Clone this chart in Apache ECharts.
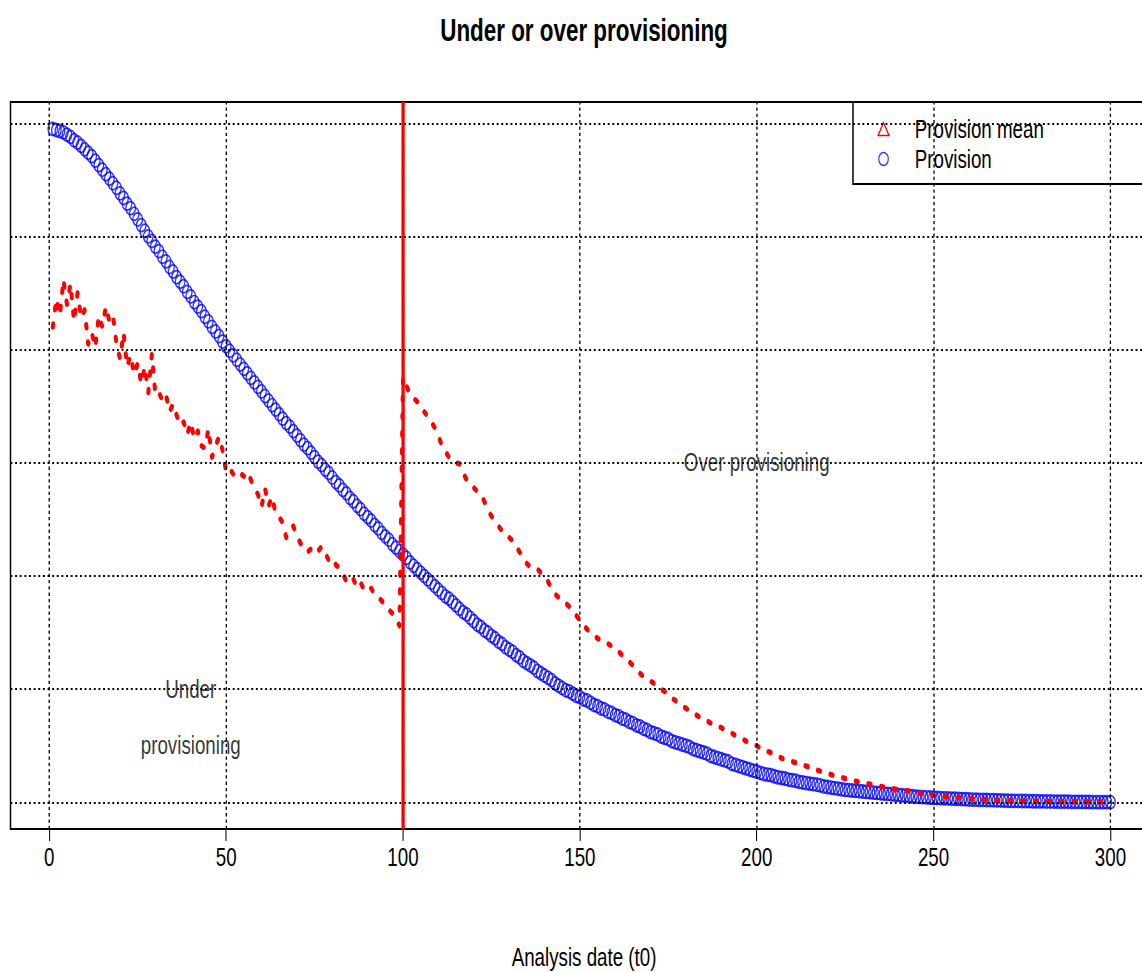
<!DOCTYPE html>
<html>
<head>
<meta charset="utf-8">
<script src="https://cdn.jsdelivr.net/npm/echarts@6/dist/echarts.min.js"></script>
<style>
html,body{margin:0;padding:0;background:#fff;overflow:hidden;width:1142px;height:972px}
#chart{width:1554px;height:972px;transform:scaleX(0.734878);transform-origin:0 0}
</style>
</head>
<body>
<div id="chart"></div>
<script>
// Provision (blue circles), analysis dates 1..300
const provision = [
  5.95,5.94,5.93,5.92,5.90, 5.88,5.85,5.83,5.80,5.77, 5.74,5.71,5.67,5.63,5.59, 5.55,5.51,5.47,5.43,5.38,
  5.34,5.29,5.25,5.20,5.15, 5.10,5.05,5.00,4.96,4.91, 4.87,4.82,4.78,4.73,4.69, 4.64,4.60,4.56,4.51,4.47,
  4.42,4.38,4.34,4.29,4.25, 4.20,4.16,4.12,4.07,4.03,
  3.99,3.95,3.91,3.87,3.83, 3.79,3.75,3.71,3.67,3.63, 3.59,3.55,3.51,3.47,3.43, 3.39,3.35,3.32,3.28,3.24,
  3.20,3.16,3.13,3.09,3.05, 3.01,2.98,2.94,2.91,2.87, 2.83,2.80,2.76,2.73,2.69, 2.66,2.62,2.59,2.55,2.52,
  2.49,2.45,2.42,2.38,2.35, 2.32,2.28,2.25,2.22,2.19,
  2.16,2.12,2.09,2.06,2.03, 2.00,1.97,1.94,1.91,1.88, 1.85,1.82,1.80,1.77,1.74, 1.71,1.68,1.66,1.63,1.60,
  1.57,1.55,1.52,1.50,1.47, 1.45,1.42,1.40,1.37,1.35, 1.33,1.30,1.28,1.25,1.23, 1.21,1.19,1.16,1.14,1.12,
  1.10,1.08,1.05,1.03,1.01, 0.99,0.98,0.96,0.94,0.93,
  0.91,0.90,0.88,0.86,0.85, 0.83,0.82,0.80,0.79,0.77, 0.76,0.74,0.73,0.71,0.70, 0.68,0.67,0.65,0.64,0.62,
  0.61,0.60,0.58,0.57,0.56, 0.54,0.53,0.52,0.51,0.50, 0.49,0.47,0.46,0.45,0.44, 0.43,0.41,0.40,0.39,0.38,
  0.37,0.36,0.34,0.33,0.32, 0.31,0.30,0.29,0.28,0.27,
  0.26,0.25,0.245,0.24,0.23, 0.22,0.215,0.21,0.20,0.195, 0.19,0.18,0.175,0.17,0.165, 0.16,0.155,0.15,0.14,0.135,
  0.13,0.125,0.12,0.115,0.11, 0.107,0.104,0.101,0.098,0.095, 0.092,0.089,0.086,0.083,0.08, 0.077,0.074,0.071,0.068,0.065,
  0.062,0.059,0.056,0.053,0.05, 0.048,0.046,0.044,0.042,0.04,
  0.038,0.037,0.035,0.034,0.032, 0.031,0.03,0.028,0.027,0.025, 0.024,0.023,0.022,0.021,0.02, 0.019,0.018,0.017,0.016,0.015,
  0.014,0.013,0.013,0.012,0.011, 0.011,0.01,0.009,0.009,0.008, 0.008,0.007,0.007,0.006,0.006, 0.005,0.005,0.005,0.004,0.004,
  0.004,0.003,0.003,0.003,0.002, 0.002,0.002,0.001,0.001,0.001
];

// Provision mean (red dotted line), analysis dates 1..300
const provisionMean = [
  4.20,4.45,4.30,4.62,4.40, 4.58,4.25,4.50,4.28,4.35, 4.05,4.15,4.02,4.30,4.20, 4.38,4.25,4.30,4.05,3.92,
  4.15,3.85,3.95,3.78,3.88, 3.70,3.85,3.62,3.96,3.60, 3.62,3.55,3.60,3.45,3.52, 3.42,3.33,3.36,3.25,3.36,
  3.21,3.28,3.15,3.13,3.30, 3.05,3.15,3.23,3.11,2.92,
  2.95,2.90,2.93,2.91,2.88, 2.92,2.85,2.77,2.72,2.61, 2.77,2.62,2.70,2.55,2.52, 2.47,2.34,2.40,2.44,2.35,
  2.29,2.25,2.21,2.24,2.26, 2.22,2.26,2.20,2.14,2.16, 2.10,2.07,2.02,1.95,1.93, 1.97,1.90,1.94,1.88,1.86,
  1.89,1.84,1.81,1.78,1.74, 1.70,1.67,1.63,1.56,3.76,
  3.68,3.60,3.57,3.54,3.50, 3.45,3.41,3.36,3.31,3.24, 3.15,3.10,3.05,3.01,3.00, 2.99,2.91,2.85,2.81,2.78,
  2.75,2.72,2.66,2.58,2.53, 2.48,2.44,2.40,2.37,2.34, 2.31,2.26,2.21,2.16,2.11, 2.08,2.07,2.06,2.03,1.99,
  1.95,1.89,1.84,1.81,1.78, 1.76,1.73,1.70,1.65,1.61,
  1.57,1.53,1.50,1.47,1.45, 1.43,1.41,1.40,1.38,1.36, 1.33,1.30,1.27,1.24,1.21, 1.17,1.14,1.11,1.09,1.07,
  1.05,1.02,1.00,0.98,0.95, 0.92,0.90,0.87,0.85,0.83, 0.81,0.79,0.77,0.75,0.73, 0.72,0.70,0.69,0.67,0.66,
  0.64,0.63,0.61,0.59,0.57, 0.56,0.54,0.52,0.51,0.50,
  0.48,0.47,0.45,0.44,0.42, 0.41,0.39,0.38,0.37,0.36, 0.35,0.34,0.33,0.32,0.31, 0.295,0.285,0.275,0.265,0.255,
  0.245,0.235,0.228,0.22,0.21, 0.20,0.193,0.186,0.179,0.172, 0.166,0.16,0.153,0.147,0.141, 0.135,0.129,0.123,0.117,0.113,
  0.109,0.105,0.10,0.093,0.086, 0.079,0.073,0.069,0.065,0.061,
  0.058,0.055,0.052,0.049,0.047, 0.044,0.041,0.038,0.035,0.033, 0.031,0.028,0.026,0.025,0.023, 0.022,0.02,0.018,0.017,0.015,
  0.014,0.013,0.013,0.012,0.012, 0.011,0.011,0.010,0.010,0.009, 0.009,0.009,0.008,0.008,0.008, 0.007,0.007,0.007,0.006,0.006,
  0.006,0.006,0.005,0.005,0.005, 0.005,0.005,0.004,0.004,0.004
];

const xTicks = [0, 50, 100, 150, 200, 250, 300];
const yGridLines = [0, 1, 2, 3, 4, 5, 6];
const thresholdDate = 100;
const annotationTexts = ['Under', 'provisioning', 'Over provisioning'];
const annotationX = [40, 40, 200];
const annotationY = [1.0, 0.5, 3.0];

const analysisDates = provision.map((_, i) => i + 1);
const FONT = "'Liberation Sans', Arial, Helvetica, sans-serif";
const LEGEND_TRIANGLE = 'path://M0,0M45,13M0,13L7.5,0L15,13Z';
const LEGEND_CIRCLE = 'path://M0,0M45,13M1,6.5a6.5,6.5 0 1,0 13,0a6.5,6.5 0 1,0 -13,0z';

const chart = echarts.init(document.getElementById('chart'), null, {renderer: 'svg', width: 1554, height: 972});

const option = {
  animation: false,
  backgroundColor: '#ffffff',
  textStyle: {fontFamily: FONT},
  title: {
    text: 'Under or over provisioning',
    left: 789.7, top: 10, textAlign: 'center',
    textStyle: {fontFamily: FONT, fontWeight: 'bold', fontSize: 30.5, color: '#000'}
  },
  grid: {
    left: 14.3, top: 102, width: 1554.3, height: 727,
    show: true, borderColor: '#000', borderWidth: 2, backgroundColor: 'transparent',
    containLabel: false, outerBoundsMode: 'none'
  },
  legend: {
    orient: 'vertical', left: 1160.7, top: 102,
    padding: [14, 200, 12, 33.3],
    itemWidth: 45, itemHeight: 13, itemGap: 4,
    borderColor: '#000', borderWidth: 2, borderRadius: 0, backgroundColor: 'transparent',
    selectedMode: false,
    textStyle: {fontSize: 25.5, lineHeight: 26, color: '#000', fontFamily: FONT},
    data: [
      {name: 'Provision mean', icon: LEGEND_TRIANGLE, itemStyle: {color: 'rgba(0,0,0,0)', borderColor: '#ff0000', borderWidth: 1.6}},
      {name: 'Provision', icon: LEGEND_CIRCLE, itemStyle: {color: 'rgba(0,0,0,0)', borderColor: '#0000ff', borderWidth: 1.6}}
    ]
  },
  xAxis: {
    type: 'value', min: -10.96, max: 311.96, position: 'bottom',
    axisLine: {show: true, onZero: false, lineStyle: {color: '#000', width: 2}},
    axisTick: {show: true, customValues: xTicks, length: 12, lineStyle: {color: '#000', width: 1.4}},
    axisLabel: {show: true, customValues: xTicks, margin: 15, fontSize: 25.5, color: '#000', fontFamily: FONT},
    splitLine: {show: false},
    name: 'Analysis date (t0)', nameLocation: 'middle', nameGap: 115,
    nameTextStyle: {fontSize: 25.5, color: '#000', fontFamily: FONT, padding: [0, 0, 0, 6.6]}
  },
  yAxis: {
    type: 'value', min: -0.236, max: 6.188,
    axisLine: {show: false}, axisTick: {show: false}, axisLabel: {show: false}, splitLine: {show: false}
  },
  series: [
    {
      name: 'gridlines', type: 'line', data: [], z: 1, silent: true,
      markLine: {
        silent: true, symbol: ['none', 'none'], animation: false,
        label: {show: false},
        data: [
          ...xTicks.map(v => ({xAxis: v, lineStyle: {color: '#000', width: 1.8, type: [3.3, 3]}})),
          ...yGridLines.map(v => ({yAxis: v, lineStyle: {color: '#000', width: 1.8, type: [2.6, 3.7]}}))
        ]
      }
    },
    {
      name: 'Provision', type: 'scatter', z: 2, silent: true,
      symbol: 'circle', symbolSize: 13,
      itemStyle: {color: 'rgba(0,0,0,0)', borderColor: '#0000ff', borderWidth: 1.7},
      emphasis: {disabled: true},
      data: analysisDates.map((d, i) => [d, provision[i]])
    },
    {
      name: 'Provision mean', type: 'line', z: 3, silent: true,
      symbol: 'none', showSymbol: false, smooth: false,
      lineStyle: {color: '#ff0000', width: 5.5, type: [3, 14.5], cap: 'round', join: 'round'},
      itemStyle: {color: '#ff0000'},
      emphasis: {disabled: true},
      data: analysisDates.map((d, i) => [d, provisionMean[i]])
    },
    {
      name: 'threshold', type: 'line', data: [], z: 4, silent: true,
      markLine: {
        silent: true, symbol: ['none', 'none'], animation: false,
        label: {show: false},
        lineStyle: {color: '#ff0000', width: 4.5, type: 'solid'},
        data: [{xAxis: thresholdDate}]
      }
    },
    {
      name: 'annotations', type: 'scatter', z: 5, silent: true,
      symbolSize: 1, itemStyle: {color: 'rgba(0,0,0,0)'},
      label: {
        show: true, position: 'inside', color: '#000000', fontSize: 25.5, fontFamily: FONT,
        textBorderWidth: 0,
        formatter: p => p.name
      },
      emphasis: {disabled: true},
      data: annotationTexts.map((t, i) => ({name: t, value: [annotationX[i], annotationY[i]]}))
    }
  ]
};

chart.setOption(option);
</script>
</body>
</html>
